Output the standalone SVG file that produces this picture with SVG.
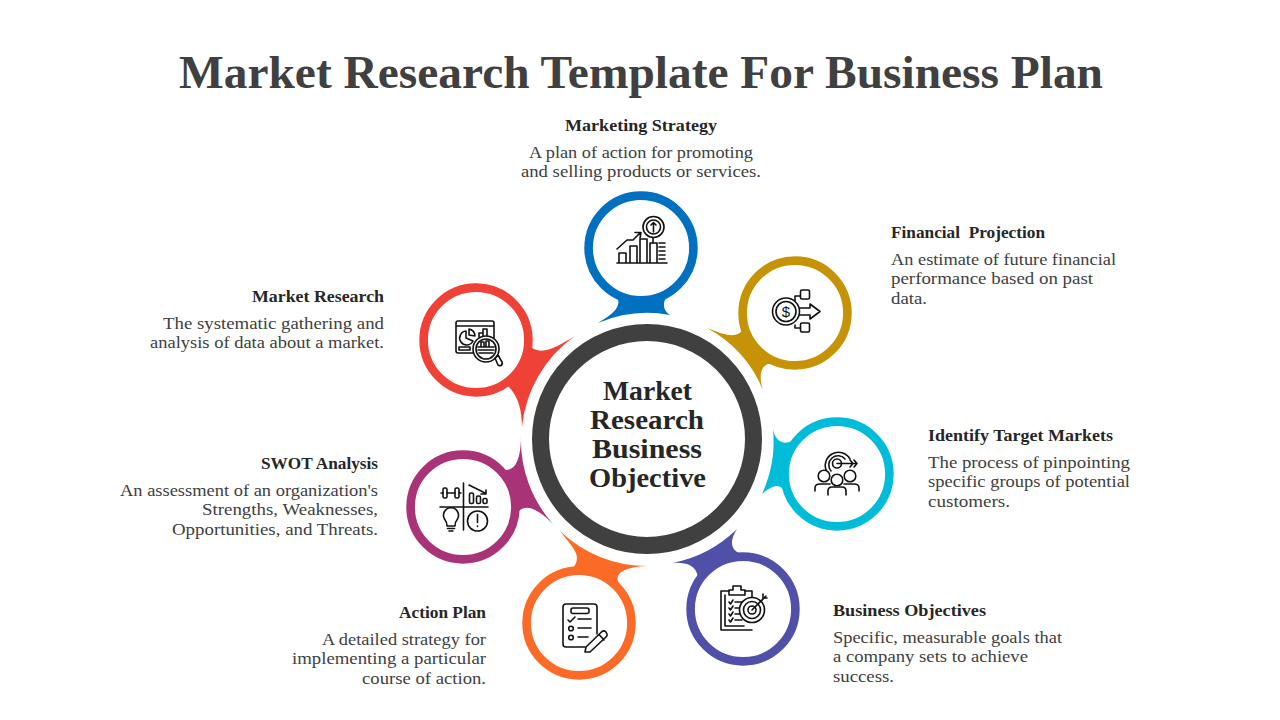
<svg xmlns="http://www.w3.org/2000/svg" width="1280" height="720" viewBox="0 0 1280 720">
<style>
text{font-family:"Liberation Serif","DejaVu Serif",serif}
.t{font-size:46px;font-weight:700;fill:#404040}
.h{font-size:17px;font-weight:700;fill:#262626}
.b{font-size:17.5px;fill:#404040}
.c{font-size:28px;font-weight:700;fill:#262626}
.r{fill:#fff;stroke-width:8.6}
.i{fill:none;stroke:#111;stroke-width:1.6;stroke-linecap:round;stroke-linejoin:round}
.i .w{fill:#fff}
</style>
<rect width="1280" height="720" fill="#fff"/>
<text class="t" x="179" y="88" textLength="924" lengthAdjust="spacingAndGlyphs">Market Research Template For Business Plan</text>
<g id="connectors" stroke="none">
<path fill="#0070C0" d="M598 323A126 126 0 0 1 670 315C664 311 662 305 666 298L641 248L617 297C621 305 617 312 598 323Z"/>
<path fill="#C69306" d="M707 328A126 126 0 0 1 763 390C759 377 759 365 772 363L795 313L743 329C737 340 722 334 707 328Z"/>
<path fill="#00BCD8" d="M773 429A126 126 0 0 1 762 494C770 487 778 482 784 490L837 474L793 440C785 446 775 442 773 429Z"/>
<path fill="#5050A8" d="M737 529A126 126 0 0 1 672 563C684 562 696 564 698 577L743 609L743 554C732 552 728 543 737 529Z"/>
<path fill="#FB6B27" d="M647 566A126 126 0 0 1 560 531C570 545 584 555 573 568L579 623L620 585C612 573 625 567 647 566Z"/>
<path fill="#AA3277" d="M553 524A126 126 0 0 1 521 435C521 450 519 471 505 470L463 507L518 512C526 503 538 509 553 524Z"/>
<path fill="#EF4136" d="M522 427A126 126 0 0 1 575 336C557 347 542 356 531 347L476 340L507 385C518 395 522 410 522 427Z"/>
</g>
<g id="center">
<circle cx="647" cy="439" r="106.500" fill="#fff" stroke="#404040" stroke-width="17"/>
<text class="c" x="603" y="400" textLength="89" lengthAdjust="spacingAndGlyphs">Market</text>
<text class="c" x="590" y="429" textLength="114" lengthAdjust="spacingAndGlyphs">Research</text>
<text class="c" x="592" y="458" textLength="110" lengthAdjust="spacingAndGlyphs">Business</text>
<text class="c" x="589" y="487" textLength="117" lengthAdjust="spacingAndGlyphs">Objective</text>
</g>
<g id="node-marketing-strategy">
<circle class="r" cx="641" cy="248" r="52.400" stroke="#0070C0"/>
<g class="i">
<path d="M617 263H667M619 263V253H626V263M630 263V246H637V263M640 263V239H647V263M650 263V243H657V263M659 243H665M659 247H665M659 251H665M659 255H665M659 259H665"/>
<path d="M617 249L627 240H633L640 233M635 232.500L641 232.500L640 238M653 238V243"/>
<circle cx="653.500" cy="227" r="10.500"/><circle cx="653.500" cy="227" r="7"/>
<path d="M653.500 232V222.500M651 225L653.500 222.500L656 225"/>
</g>
<text class="h" x="565" y="131" textLength="152" lengthAdjust="spacingAndGlyphs">Marketing Strategy</text>
<text class="b" x="529" y="158" textLength="224" lengthAdjust="spacingAndGlyphs">A plan of action for promoting</text>
<text class="b" x="521" y="177" textLength="240" lengthAdjust="spacingAndGlyphs">and selling products or services.</text>
</g>
<g id="node-financial-projection">
<circle class="r" cx="795" cy="313" r="52.400" stroke="#C69306"/>
<g class="i">
<path d="M795 301V296H800M795 325V328H800M797 308H810V304L820 311.500L810 319V315H797"/>
<rect x="800.500" y="290" width="9" height="9" rx="1.500"/><rect x="800.500" y="323" width="9" height="9" rx="1.500"/>
<circle cx="786" cy="311.500" r="13.500" class="w"/><circle cx="786" cy="311.500" r="10"/>
</g>
<text x="786" y="317" text-anchor="middle" style="font-family:'Liberation Sans',sans-serif;font-size:15px" fill="#111">$</text>
<text class="h" x="891" y="238" textLength="154" lengthAdjust="spacingAndGlyphs" xml:space="preserve">Financial  Projection</text>
<text class="b" x="891" y="265" textLength="225" lengthAdjust="spacingAndGlyphs">An estimate of future financial</text>
<text class="b" x="891" y="284" textLength="202" lengthAdjust="spacingAndGlyphs">performance based on past</text>
<text class="b" x="891" y="304" textLength="36" lengthAdjust="spacingAndGlyphs">data.</text>
</g>
<g id="node-identify-target-markets">
<circle class="r" cx="837" cy="474" r="52.400" stroke="#00BCD8"/>
<g class="i">
<path d="M827 472A13 13 0 1 1 850 459M831 471A9 9 0 1 1 845 459"/>
<circle cx="837" cy="463.500" r="4.500"/>
<path d="M837 463.500H856M850 460L853 463.500L850 467M854 460L857 463.500L854 467"/>
<circle cx="824" cy="476" r="5.800" class="w"/><circle cx="850" cy="476" r="5.800" class="w"/><circle cx="837" cy="480" r="5.800" class="w"/>
<path d="M815 491V488Q815 484 820 484H830M859 491V488Q859 484 854 484H844M828 495V491Q828 487 832 487H842Q846 487 846 491V495"/>
</g>
<text class="h" x="928" y="441" textLength="185" lengthAdjust="spacingAndGlyphs">Identify Target Markets</text>
<text class="b" x="928" y="468" textLength="202" lengthAdjust="spacingAndGlyphs">The process of pinpointing</text>
<text class="b" x="928" y="487" textLength="202" lengthAdjust="spacingAndGlyphs">specific groups of potential</text>
<text class="b" x="928" y="507" textLength="82" lengthAdjust="spacingAndGlyphs">customers.</text>
</g>
<g id="node-business-objectives">
<circle class="r" cx="743" cy="609" r="52.400" stroke="#5050A8"/>
<g class="i">
<path d="M729 591H721V630H752"/>
<path d="M745 591H752V597M725 595V626H744"/>
<path d="M729 595V590H733V586H741V590H745V595Z"/>
<path d="M729 602L730.500 604L733 600M729 608L730.500 610L733 606M729 614L730.500 616L733 612M729 620L730.500 622L733 618M735 602H746M735 608H742M735 614H740M735 620H742"/>
<circle cx="752" cy="610" r="12.500" class="w"/><circle cx="752" cy="610" r="8.500"/><circle cx="752" cy="610" r="4"/>
<path d="M752 610L766 596M763 594V598H767"/>
</g>
<text class="h" x="833" y="616" textLength="153" lengthAdjust="spacingAndGlyphs">Business Objectives</text>
<text class="b" x="833" y="643" textLength="229" lengthAdjust="spacingAndGlyphs">Specific, measurable goals that</text>
<text class="b" x="833" y="662" textLength="195" lengthAdjust="spacingAndGlyphs">a company sets to achieve</text>
<text class="b" x="833" y="682" textLength="61" lengthAdjust="spacingAndGlyphs">success.</text>
</g>
<g id="node-action-plan">
<circle class="r" cx="579" cy="623" r="52.400" stroke="#FB6B27"/>
<g class="i">
<path d="M585 647H566Q563 647 563 644V607Q563 604 566 604H594Q597 604 597 607V634"/>
<rect x="571" y="608" width="18" height="5.500" rx="2"/>
<path d="M568 620L570 622L575 617M578 619H591M578 628H591M578 637H588"/>
<circle cx="571" cy="628.500" r="2.300"/><circle cx="571" cy="637.500" r="2.300"/>
<path d="M586 647L602 631.500Q604 630 606 632L607 634Q607.500 636 606 637L590 652L585 652Z" class="w"/>
<path d="M599 634.500L604 640"/>
</g>
<text class="h" x="399" y="618" textLength="87" lengthAdjust="spacingAndGlyphs">Action Plan</text>
<text class="b" x="322" y="645" textLength="164" lengthAdjust="spacingAndGlyphs">A detailed strategy for</text>
<text class="b" x="292" y="664" textLength="194" lengthAdjust="spacingAndGlyphs">implementing a particular</text>
<text class="b" x="362" y="684" textLength="124" lengthAdjust="spacingAndGlyphs">course of action.</text>
</g>
<g id="node-swot-analysis">
<circle class="r" cx="463" cy="507" r="52.400" stroke="#AA3277"/>
<g class="i">
<path d="M463.500 483V530M440 507H488"/>
<path d="M441 493H443M459 493H461M447 493H455"/>
<rect x="443" y="488" width="4" height="10" rx="1.500"/><rect x="455" y="488" width="4" height="10" rx="1.500"/>
<path d="M469 485L485 493M481 494H486V490"/>
<rect x="469.500" y="493" width="4" height="10.500" rx="1.500"/><rect x="476.500" y="496" width="4" height="7.500" rx="1.500"/><rect x="483" y="498.500" width="4" height="5" rx="1.500"/>
<path d="M447 526Q447 522 444.500 519A7.500 7.500 0 1 1 457.500 519Q455 522 455 526ZM447.500 528.500H454.500M449 531H453"/>
<circle cx="477.500" cy="521" r="10"/>
<path d="M477.500 514.500V522.500M477.500 526V526.500"/>
</g>
<text class="h" x="261" y="469" textLength="117" lengthAdjust="spacingAndGlyphs">SWOT Analysis</text>
<text class="b" x="120" y="496" textLength="258" lengthAdjust="spacingAndGlyphs">An assessment of an organization's</text>
<text class="b" x="202" y="515" textLength="176" lengthAdjust="spacingAndGlyphs">Strengths, Weaknesses,</text>
<text class="b" x="172" y="535" textLength="206" lengthAdjust="spacingAndGlyphs">Opportunities, and Threats.</text>
</g>
<g id="node-market-research">
<circle class="r" cx="476" cy="340" r="52.400" stroke="#EF4136"/>
<g class="i">
<path d="M473 353H458Q456 353 456 351V323Q456 321 458 321H492Q494 321 494 323V338M456 326H494"/>
<path d="M466 331A7 7 0 1 0 473 341L466 338Z"/>
<path d="M469 329A7 7 0 0 1 475 336L469 335Z"/>
<path d="M459 347H470V350H459ZM479 337V333H483V337M483 333V329H487V337"/>
<circle cx="486" cy="349" r="13" class="w"/><circle cx="486" cy="349" r="10"/>
<path d="M478 347H494M478 350H494M479 353H493M481 346V342H484V346M486 346V341H489V346"/>
<path d="M495 358L498 355L502 362Q503 364 501 365.500Q499 366 498 365Z"/>
</g>
<text class="h" x="252" y="302" textLength="132" lengthAdjust="spacingAndGlyphs">Market Research</text>
<text class="b" x="163" y="329" textLength="221" lengthAdjust="spacingAndGlyphs">The systematic gathering and</text>
<text class="b" x="150" y="348" textLength="234" lengthAdjust="spacingAndGlyphs">analysis of data about a market.</text>
</g>
</svg>
